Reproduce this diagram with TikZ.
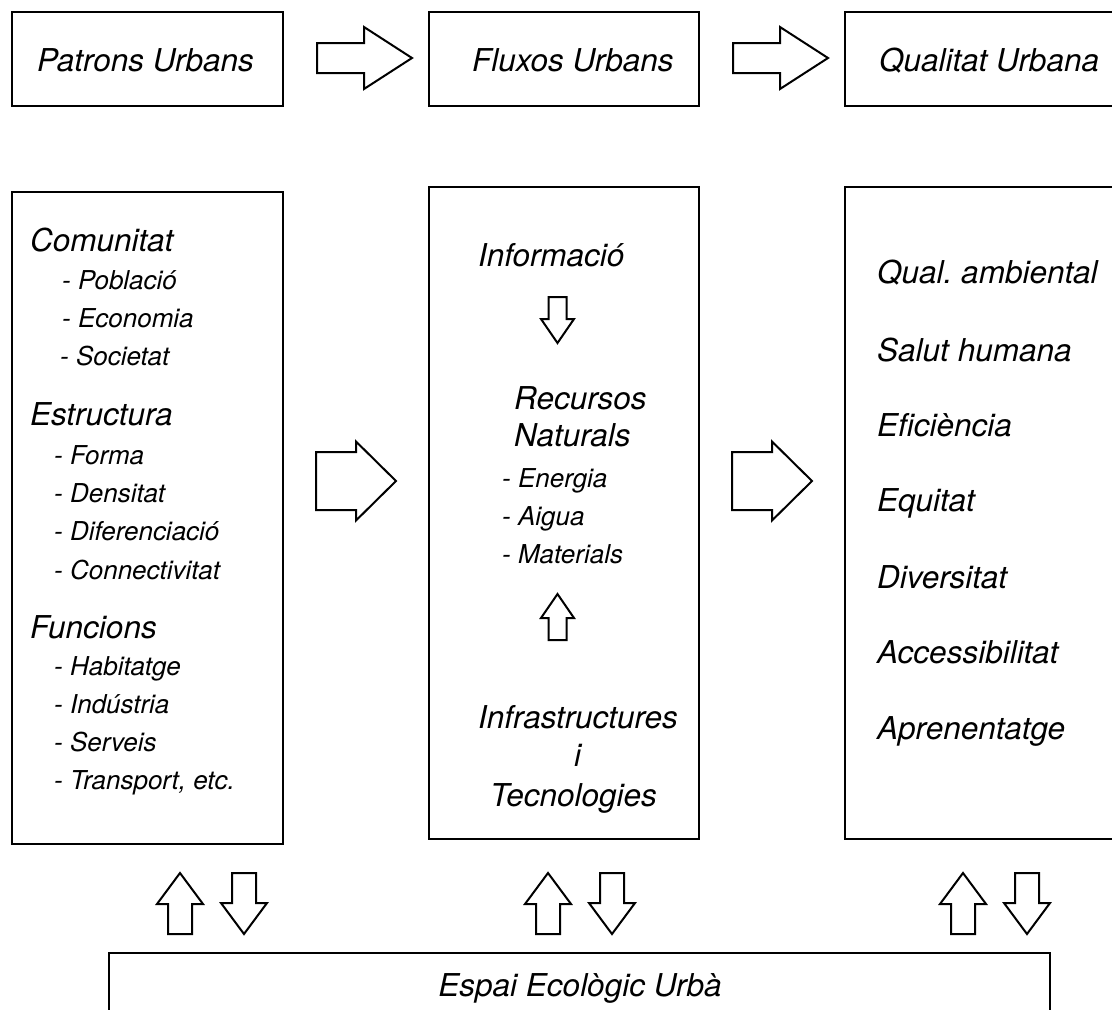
\documentclass[tikz,border=0pt]{standalone}
\usepackage{fontspec}
\setmainfont{TeX Gyre Heros}
\begin{document}
\begin{tikzpicture}[x=1pt,y=-1pt,
  frame/.style={draw, line width=2.4pt, inner sep=0pt, outer sep=0pt, anchor=north west},
  head/.style={anchor=base west, inner sep=0pt, font=\fontsize{31.5}{36}\selectfont\itshape},
  item/.style={anchor=base west, inner sep=0pt, font=\fontsize{26}{30}\selectfont\itshape},
  blk/.style={draw, line width=2pt, line join=miter, fill=white},
  % block arrow pointing right: length, head length, shaft width, head width
  pics/rarrow/.style n args={4}{code={
    \draw[blk] (0,{-#3/2}) -- ({#1-#2},{-#3/2}) -- ({#1-#2},{-#4/2}) -- (#1,0)
      -- ({#1-#2},{#4/2}) -- ({#1-#2},{#3/2}) -- (0,{#3/2}) -- cycle;}},
  % block arrow pointing down (origin at the tail)
  pics/darrow/.style n args={4}{code={
    \draw[blk] ({-#3/2},0) -- ({-#3/2},{#1-#2}) -- ({-#4/2},{#1-#2}) -- (0,#1)
      -- ({#4/2},{#1-#2}) -- ({#3/2},{#1-#2}) -- ({#3/2},0) -- cycle;}},
  % block arrow pointing up (origin at the tail)
  pics/uarrow/.style n args={4}{code={
    \draw[blk] ({-#3/2},0) -- ({-#3/2},{-(#1-#2)}) -- ({-#4/2},{-(#1-#2)}) -- (0,-#1)
      -- ({#4/2},{-(#1-#2)}) -- ({#3/2},{-(#1-#2)}) -- ({#3/2},0) -- cycle;}}]
\useasboundingbox (0,0) rectangle (1112,1010);
\clip (0,0) rectangle (1112,1010);

% top row
\node[frame, minimum width=271pt, minimum height=94pt] (pbox) at (12,12) {};
\node[frame, minimum width=270pt, minimum height=94pt] (fbox) at (429,12) {};
\node[frame, minimum width=270pt, minimum height=94pt] (qbox) at (845,12) {};
\node[head] (ptitle) at (37,71) {Patrons Urbans};
\node[head] (ftitle) at (472,71) {Fluxos Urbans};
\node[head] (qtitle) at (879,71) {Qualitat Urbana};
\pic at (317,58) {rarrow={95}{48}{30}{62}};
\pic at (733,58) {rarrow={95}{48}{30}{62}};

% middle row
\node[frame, minimum width=271pt, minimum height=652pt] (pcol) at (12,192) {};
\node[frame, minimum width=270pt, minimum height=652pt] (fcol) at (429,187) {};
\node[frame, minimum width=270pt, minimum height=652pt] (qcol) at (845,187) {};
\pic at (316,481) {rarrow={80}{40}{58}{79}};
\pic at (732,481) {rarrow={80}{40}{58}{79}};

% urban patterns
\node[head] (com) at (30,251) {Comunitat};
\node[item] (pob) at (62,289) {- Població};
\node[item] (eco) at (62,327) {- Economia};
\node[item] (soc) at (60,365) {- Societat};
\node[head] (est) at (30,425) {Estructura};
\node[item] (for) at (54,464) {- Forma};
\node[item] (den) at (54,502) {- Densitat};
\node[item] (dif) at (54,540) {- Diferenciació};
\node[item] (con) at (54,579) {- Connectivitat};
\node[head] (fun) at (30,638) {Funcions};
\node[item] (hab) at (54,675) {- Habitatge};
\node[item] (ind) at (54,713) {- Indústria};
\node[item] (ser) at (54,751) {- Serveis};
\node[item] (tra) at (54,789) {- Transport, etc.};

% urban flows
\node[head] (inf) at (478,266) {Informació};
\pic at (557.5,297) {darrow={46}{24}{18}{33}};
\node[head] (rec) at (514,409) {Recursos};
\node[head] (nat) at (514,446) {Naturals};
\node[item] (ene) at (502,487) {- Energia};
\node[item] (aig) at (502,525) {- Aigua};
\node[item] (mat) at (502,563) {- Materials};
\pic at (557.5,640) {uarrow={46}{24}{18}{33}};
\node[head] (ift) at (478,728) {Infrastructures};
\node[head] (ii) at (574,766) {i};
\node[head] (tec) at (490,806) {Tecnologies};

% urban quality
\node[head] (qa) at (877,283) {Qual.\ ambiental};
\node[head] (sh) at (877,361) {Salut humana};
\node[head] (ef) at (877,436) {Eficiència};
\node[head] (eq) at (877,511) {Equitat};
\node[head] (di) at (877,588) {Diversitat};
\node[head] (ac) at (877,663) {Accessibilitat};
\node[head] (ap) at (877,739) {Aprenentatge};

% exchanges with the urban ecological space
\pic at (180,934) {uarrow={61}{31}{24}{46}};
\pic at (244,873) {darrow={61}{31}{24}{46}};
\pic at (548,934) {uarrow={61}{31}{24}{46}};
\pic at (612,873) {darrow={61}{31}{24}{46}};
\pic at (963,934) {uarrow={61}{31}{24}{46}};
\pic at (1027,873) {darrow={61}{31}{24}{46}};

% bottom
\node[frame, minimum width=941pt, minimum height=90pt] (espai) at (109,953) {};
\node[head, anchor=base] (etitle) at (580,996) {Espai Ecològic Urbà};
\end{tikzpicture}
\end{document}
